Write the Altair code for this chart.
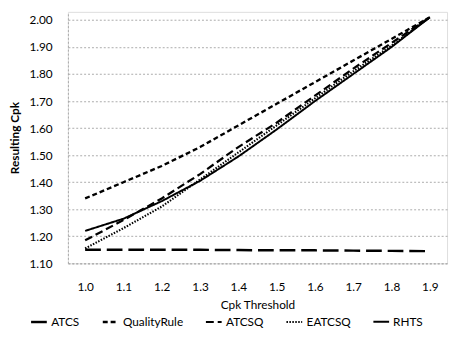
import altair as alt
import pandas as pd

thresholds = ["1.0", "1.1", "1.2", "1.3", "1.4", "1.5", "1.6", "1.7", "1.8", "1.9"]
series_names = ["ATCS", "QualityRule", "ATCSQ", "EATCSQ", "RHTS"]
atcs = [1.15, 1.15, 1.15, 1.15, 1.149, 1.148, 1.148, 1.147, 1.146, 1.145]
quality_rule = [1.34, 1.40, 1.46, 1.53, 1.61, 1.69, 1.77, 1.85, 1.93, 2.01]
atcsq = [1.185, 1.26, 1.34, 1.43, 1.53, 1.62, 1.72, 1.82, 1.915, 2.01]
eatcsq = [1.155, 1.23, 1.31, 1.41, 1.51, 1.61, 1.71, 1.81, 1.905, 2.01]
rhts = [1.22, 1.265, 1.33, 1.405, 1.495, 1.595, 1.70, 1.80, 1.90, 2.01]
y_ticks = [1.1, 1.2, 1.3, 1.4, 1.5, 1.6, 1.7, 1.8, 1.9, 2.0]

rows = []
for name, vals in zip(series_names, [atcs, quality_rule, atcsq, eatcsq, rhts]):
    for t, v in zip(thresholds, vals):
        rows.append({"Threshold": t, "Cpk": v, "Series": name})
df = pd.DataFrame(rows)

FONT = "Lato"

chart = alt.Chart(df).mark_line(color="black").encode(
    x=alt.X("Threshold:O", sort=thresholds,
            scale=alt.Scale(type="point", padding=0.45),
            axis=alt.Axis(title="Cpk Threshold", labelAngle=0, ticks=False,
                          domain=True, domainColor="#aaaaaa", domainDash=[2, 2],
                          labelPadding=19, titlePadding=7, labelFontSize=12,
                          titleFontSize=12, titleFontWeight="normal",
                          labelColor="black", titleColor="black",
                          labelFont=FONT, titleFont=FONT)),
    y=alt.Y("Cpk:Q", scale=alt.Scale(domain=[1.1, 2.03], nice=False, zero=False),
            axis=alt.Axis(title="Resulting Cpk", values=y_ticks, format=".2f",
                          ticks=False, domain=True, domainColor="#aaaaaa",
                          domainDash=[2, 2], grid=True, gridColor="#aaaaaa",
                          gridDash=[2, 2], labelPadding=16, labelFontSize=12,
                          titleFontSize=12, titleFontWeight="bold",
                          labelColor="black", titleColor="black",
                          labelFont=FONT, titleFont=FONT,
                          titleX=-54, titleY=128, titleAngle=270,
                          titleAlign="center", titleBaseline="middle")),
    strokeDash=alt.StrokeDash("Series:N", sort=series_names,
                              scale=alt.Scale(domain=series_names,
                                              range=[[16, 6], [5, 3], [8, 4], [1.5, 1.5], [1, 0]]),
                              legend=alt.Legend(title=None, orient="none",
                                                legendX=-39, legendY=306,
                                                direction="horizontal",
                                                symbolType="stroke",
                                                symbolSize=256,
                                                symbolStrokeColor="black",
                                                symbolStrokeWidth=2,
                                                labelFont=FONT, labelFontSize=12,
                                                labelColor="black",
                                                labelOffset=3,
                                                columnPadding=18)),
    strokeWidth=alt.StrokeWidth("Series:N", sort=series_names,
                                scale=alt.Scale(domain=series_names,
                                                range=[2.5, 2, 2.2, 1.5, 2.2]),
                                legend=None),
).properties(
    width=386, height=256,
    autosize=alt.AutoSizeParams(type="none"),
    padding={"left": 61, "top": 1, "right": 3, "bottom": 69},
).configure_view(stroke=None).configure(background="white")

chart.save("out.html", embed_options={"renderer": "svg", "actions": False})
